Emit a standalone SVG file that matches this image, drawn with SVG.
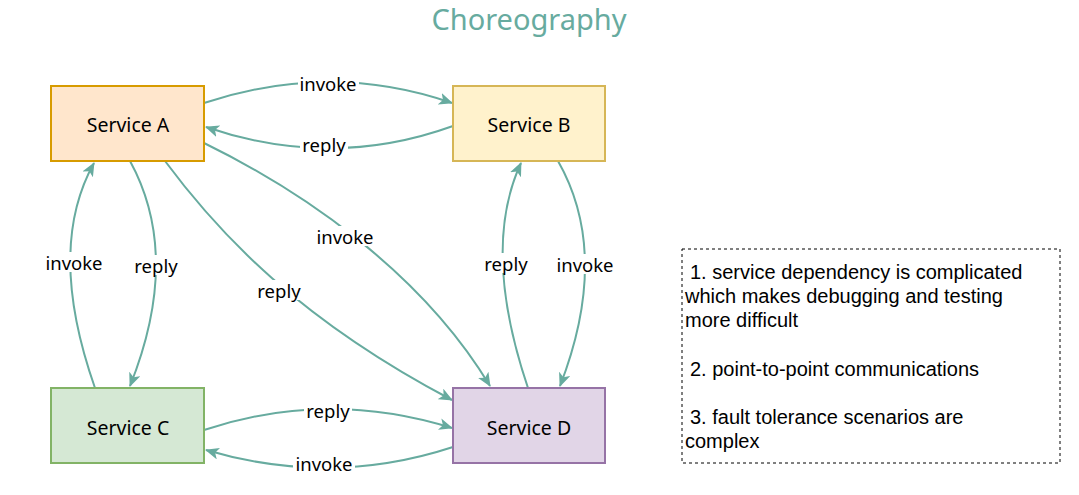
<svg xmlns="http://www.w3.org/2000/svg" width="1079" height="495" viewBox="0 0 1079 495">
<defs>
<marker id="arr" viewBox="0 0 14 12" refX="13" refY="6" markerWidth="14" markerHeight="12" markerUnits="userSpaceOnUse" orient="auto">
<path d="M0,0 L14,6 L0,12 L3.5,6 Z" fill="#67AB9F"/>
</marker>
<style>
.e{fill:none;stroke:#67AB9F;stroke-width:2;marker-end:url(#arr)}
.n{stroke-width:2}
.t{font-family:"Comic Sans MS","Noto Sans","Liberation Sans",sans-serif;font-size:19.5px;fill:#000;text-anchor:middle;dominant-baseline:central}
.l{font-family:"Comic Sans MS","Noto Sans","Liberation Sans",sans-serif;font-size:18.5px;fill:#000;text-anchor:middle;dominant-baseline:central}
.lb{fill:#fff}
.note{font-family:"Liberation Sans",Arial,sans-serif;font-size:20px;fill:#000}
</style>
</defs>
<rect width="1079" height="495" fill="#fff"/>
<text x="529" y="18" font-family="'Comic Sans MS','Noto Sans','Liberation Sans',sans-serif" font-size="29" fill="#67AB9F" text-anchor="middle" dominant-baseline="central">Choreography</text>

<g id="connectors">
<path class="e" d="M204,103 Q331,61 452,103"/>
<path class="e" d="M453,126 Q331,170 206,127"/>
<path class="e" d="M95,388 Q46,249 94,163"/>
<path class="e" d="M130,161 Q182,256 130,386"/>
<path class="e" d="M204,143 C300,190 420,270 490,386"/>
<path class="e" d="M165,161 C220,235 300,320 452,400"/>
<path class="e" d="M528,388 Q481,249 521,163"/>
<path class="e" d="M558,161 Q611,254 560,386"/>
<path class="e" d="M204,430 Q327,389 452,428"/>
<path class="e" d="M453,447 Q331,487 206,450"/>
<rect class="lb" x="298" y="73" width="61" height="20"/>
<text class="l" x="328" y="83">invoke</text>
<rect class="lb" x="300" y="134" width="48" height="20"/>
<text class="l" x="324" y="144">reply</text>
<rect class="lb" x="43" y="252" width="62" height="20"/>
<text class="l" x="74" y="262">invoke</text>
<rect class="lb" x="132" y="255" width="48" height="20"/>
<text class="l" x="156" y="265">reply</text>
<rect class="lb" x="314" y="226" width="62" height="20"/>
<text class="l" x="345" y="236">invoke</text>
<rect class="lb" x="255" y="280" width="48" height="20"/>
<text class="l" x="279" y="290">reply</text>
<rect class="lb" x="482" y="253" width="48" height="20"/>
<text class="l" x="506" y="263">reply</text>
<rect class="lb" x="554" y="254" width="62" height="20"/>
<text class="l" x="585" y="264">invoke</text>
<rect class="lb" x="304" y="400" width="48" height="20"/>
<text class="l" x="328" y="410">reply</text>
<rect class="lb" x="293" y="453" width="62" height="20"/>
<text class="l" x="324" y="463">invoke</text>
</g>

<g id="serviceA">
<rect class="n" x="51" y="86" width="153" height="75" fill="#FFE6CC" stroke="#D79B00"/>
<text class="t" x="128" y="124">Service A</text>
</g>
<g id="serviceB">
<rect class="n" x="453" y="86" width="152" height="75" fill="#FFF2CC" stroke="#D6B656"/>
<text class="t" x="529" y="124">Service B</text>
</g>
<g id="serviceC">
<rect class="n" x="51" y="388" width="153" height="75" fill="#D5E8D4" stroke="#82B366"/>
<text class="t" x="128" y="427">Service C</text>
</g>
<g id="serviceD">
<rect class="n" x="453" y="388" width="152" height="75" fill="#E1D5E7" stroke="#9673A6"/>
<text class="t" x="529" y="427">Service D</text>
</g>

<g id="notes">
<rect x="682" y="249" width="378" height="214" fill="none" stroke="#000" stroke-width="1" stroke-dasharray="3,3"/>
<text class="note" x="690" y="279">1. service dependency is complicated</text>
<text class="note" x="685" y="303">which makes debugging and testing</text>
<text class="note" x="685" y="327">more difficult</text>
<text class="note" x="690" y="376">2. point-to-point communications</text>
<text class="note" x="690" y="424">3. fault tolerance scenarios are</text>
<text class="note" x="685" y="448">complex</text>
</g>
</svg>
